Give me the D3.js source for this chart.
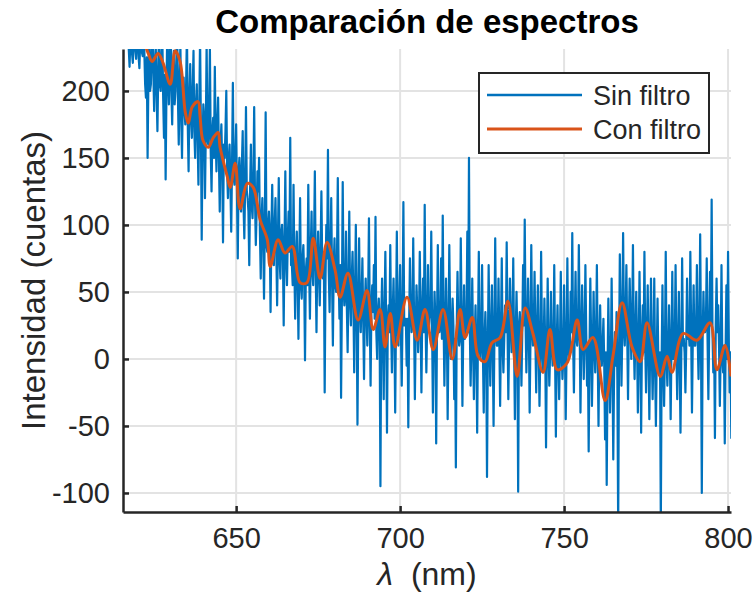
<!DOCTYPE html>
<html>
<head>
<meta charset="utf-8">
<title>Comparación de espectros</title>
<script src="https://cdn.jsdelivr.net/npm/d3@7/dist/d3.min.js"></script>
<style>
  body { margin: 0; background: #fff; }
  text { font-family: "Liberation Sans", Arial, sans-serif; }
</style>
</head>
<body>
<script>
// ticks
var xTicks = [650, 700, 750, 800];
var yTicks = [-100, -50, 0, 50, 100, 150, 200];

// espectro sin filtro: rejilla regular de longitud de onda (nm), 20 puntos por fila = 5 nm
var sinFiltroInicio = 617;
var sinFiltroPaso = 0.25;
var sinFiltro = [
  245, 232, 218, 240, 250, 228, 221, 245, 262, 230, 224, 250, 240, 226, 217, 238, 255, 229, 226, 244,   // 617
  230, 205, 195, 225, 150, 210, 240, 200, 205, 230, 260, 215, 185, 222, 232, 198, 170, 215, 250, 205,   // 622
  200, 225, 240, 195, 165, 212, 134, 200, 245, 210, 190, 225, 260, 200, 175, 215, 230, 190, 200, 220,   // 627
  250, 195, 160, 205, 235, 180, 150, 200, 210, 185, 175, 205, 245, 175, 140, 195, 220, 180, 165, 200,   // 632
  230, 170, 150, 190, 205, 165, 130, 185, 240, 175, 89, 160, 190, 180, 120, 170, 235, 165, 160, 185,    // 637
  232, 155, 125, 170, 180, 150, 218, 165, 140, 175, 195, 150, 110, 160, 175, 145, 87, 160, 150, 170,    // 642
  200, 140, 120, 150, 160, 130, 95, 145, 206, 135, 130, 150, 175, 125, 75, 140, 150, 130, 110, 145,     // 647
  170, 115, 90, 130, 188, 125, 120, 110, 70, 125, 160, 115, 105, 130, 188, 120, 85, 110, 140, 125,      // 652
  150, 95, 60, 105, 120, 90, 45, 100, 184, 85, 80, 100, 110, 90, 35, 95, 130, 85, 70, 100,              // 657
  120, 80, 40, 90, 135, 75, 60, 95, 100, 80, 25, 85, 140, 75, 55, 90, 110, 80, 165, 70,                 // 662
  70, 55, 130, 70, 30, 75, 95, 60, 15, 70, 120, 55, 45, 75, 85, 60, -1, 65, 75, 55,                     // 667
  130, 70, 30, 80, 110, 65, 55, 85, 140, 70, 20, 75, 95, 65, 40, 80, 125, 70, 60, 75,                   // 672
  -25, 60, 100, 75, 156, 65, 35, 80, 120, 60, 10, 70, 90, 55, 50, 75, 135, 65, 30, 70,                  // 677
  -29, 45, 132, 55, 40, 50, 95, 40, 5, 55, 110, 45, 25, 60, 80, 45, -10, 50, 100, 40,                   // 682
  -49, 35, 90, 40, 20, 45, 75, 30, -15, 40, 60, 35, 10, 45, 105, 30, -20, 40, 55, 35,                   // 687
  70, 30, 106, 20, 0, 35, 45, 25, -95, 30, 60, 20, -30, 35, 80, 25, -55, 30, 40, 20,                    // 692
  85, 25, -10, 35, 60, 20, -40, 30, 95, 25, 10, 40, 70, 20, -20, 35, 117, 25, 25, 30,                   // 697
  -5, 30, -51, 25, 75, 35, 20, 25, 90, 30, -30, 20, 55, 35, 5, 25, 80, 30, -25, 35,                     // 702
  60, 20, 115, 30, -10, 25, 70, 20, 30, 35, 95, 25, -40, 20, 50, 30, -63, 25, 85, 20,                   // 707
  20, 25, 75, 15, 107, 30, -20, 20, 60, 25, -45, 15, 85, 30, 0, 20, 45, 25, -30, 15,                    // 712
  -81, 20, 65, 25, 10, 15, 90, 30, -35, 20, 55, 15, 20, 30, 95, 20, 150, 25, -20, 15,                   // 717
  60, 10, -30, 15, 40, 5, -55, 20, 80, 10, 0, 15, 70, 5, -40, 15, 35, 10, -88, 5,                       // 722
  70, 15, -20, 20, 55, 10, -50, 15, 90, 20, 10, 10, 60, 15, -35, 20, 75, 10, -10, 15,                   // 727
  40, 20, 87, 25, -30, 15, 60, 30, 5, 20, 75, 10, -45, 20, 50, 15, -99, 25, 35, 15,                     // 732
  -20, 20, 70, 25, 104, 30, -10, 20, 60, 25, -40, 15, 85, 25, 10, 20, 65, 15, -25, 20,                  // 737
  55, 10, -35, 5, 80, 15, -10, 5, 45, 10, -66, 5, 60, 10, -20, 5, 50, 10, -5, 5,                        // 742
  70, 5, -58, 10, 40, 0, -30, 10, 65, 5, -15, 0, 55, 10, -45, 5, 75, 10, 0, 5,                          // 747
  50, 20, 94, 15, -25, 25, 65, 15, 10, 20, 85, 25, -40, 15, 55, 20, -15, 15, 70, 20,                    // 752
  -20, 10, -69, 5, 60, 15, -35, 5, 50, 10, -10, 15, 70, 5, -50, 10, 40, 5, -5, 10,                      // 757
  30, -5, -60, 5, -94, -10, 45, 0, -40, -5, 60, 0, -75, -10, 20, -5, 35, -15, -125, 0,                  // 762
  78, 30, -20, 20, 94, 25, 10, 30, 70, 20, -30, 25, 60, 30, 0, 20, 85, 15, -15, 20,                     // 767
  50, 15, -40, 5, 65, 10, -55, 15, 40, 5, 80, 10, -25, 15, 55, 5, -45, 10, 60, 5,                       // 772
  -30, 5, 60, -5, -50, 0, 45, -5, -10, 5, -125, 0, 55, -5, -35, 5, 80, 0, -20, 5,                       // 777
  40, 5, -45, 10, 65, 0, 0, 10, 70, 5, -30, 10, 50, 0, -55, 5, 75, 10, 15, 5,                           // 782
  -25, 10, 60, 15, 20, 10, 80, 20, -40, 15, 55, 10, 10, 20, 70, 15, -15, 20, 93, 15,                    // 787
  -100, 15, 50, 20, 20, 25, 75, 15, -30, 20, 65, 25, 119, 20, -10, 15, -59, 25, 60, 20,                 // 792
  40, 10, -35, 5, 70, 0, -10, 10, -63, 5, 55, 0, 80, 10, -25, 5, -59, 10, 30, 5                         // 797
];

// espectro con filtro
var conFiltroNm = [
  620.7, 623.2, 624.4, 626.2, 627.7, 629.9, 631.4, 632.9, 634.5, 635.4,
  636.6, 638.4, 639.0, 639.9, 641.5, 643.0, 644.5, 645.1, 647.3, 648.2,
  649.7, 651.2, 653.4, 655.2, 657.3, 659.5, 660.4, 662.8, 664.9, 667.1,
  669.5, 671.6, 673.5, 675.6, 677.7, 680.2, 681.7, 684.1, 687.2, 689.9,
  691.8, 693.9, 695.4, 697.0, 698.5, 702.1, 705.2, 707.6, 710.1, 713.1,
  715.9, 718.3, 719.8, 722.0, 723.8, 725.9, 728.0, 730.5, 732.9, 735.7,
  738.1, 740.5, 743.6, 745.7, 747.9, 750.9, 754.0, 755.8, 758.8, 762.5,
  764.9, 767.7, 770.7, 773.2, 775.3, 779.3, 781.4, 782.9, 786.3, 790.5,
  794.5, 796.6, 799.1, 800.9
];
var conFiltro = [
  245, 228, 222, 228, 221, 205, 230, 222, 184, 176,
  188, 192, 181, 163, 158, 165, 169, 158, 136, 128,
  146, 112, 131, 128, 104, 89, 69, 89, 79, 84,
  57, 57, 90, 60, 87, 66, 46, 64, 29, 51,
  22, 37, 9, 34, 9, 46, 14, 37, 7, 37,
  0, 37, 16, 31, 2, -2, 12, 16, 43, -13,
  38, 19, -10, 22, -8, -3, 29, 7, 16, -31,
  2, 42, 9, -2, 27, -13, 2, -10, 19, 14,
  27, -8, 10, -13
];

var width = 754;
var height = 599;
var margin = { top: 49, right: 23, bottom: 87, left: 123 };
var ink = "#262626";

var svg = d3.select("body").append("svg")
  .attr("width", width).attr("height", height)
  .style("background", "#fff");

var xScale = d3.scaleLinear().domain([615.5, 800.9]).range([margin.left, width - margin.right]);
var yScale = d3.scaleLinear().domain([-114.2, 231.3]).range([height - margin.bottom, margin.top]);

// rejilla
var grid = svg.append("g");
grid.selectAll(".gx").data(xTicks).enter().append("line")
  .attr("x1", function (d) { return xScale(d); }).attr("x2", function (d) { return xScale(d); })
  .attr("y1", margin.top).attr("y2", height - margin.bottom)
  .attr("stroke", "#e3e3e3").attr("stroke-width", 2);
grid.selectAll(".gy").data(yTicks).enter().append("line")
  .attr("y1", function (d) { return yScale(d); }).attr("y2", function (d) { return yScale(d); })
  .attr("x1", margin.left).attr("x2", width - margin.right)
  .attr("stroke", "#e3e3e3").attr("stroke-width", 2);

svg.append("clipPath").attr("id", "area").append("rect")
  .attr("x", margin.left).attr("y", margin.top)
  .attr("width", width - margin.left - margin.right)
  .attr("height", height - margin.top - margin.bottom);

var plot = svg.append("g").attr("clip-path", "url(#area)");

var lineaSin = d3.line()
  .x(function (d, i) { return xScale(sinFiltroInicio + i * sinFiltroPaso); })
  .y(function (d) { return yScale(d); });
plot.append("path").datum(sinFiltro)
  .attr("d", lineaSin)
  .attr("fill", "none").attr("stroke", "#0072BD").attr("stroke-width", 2.2)
  .attr("stroke-linejoin", "round");

var lineaCon = d3.line()
  .x(function (d, i) { return xScale(conFiltroNm[i]); })
  .y(function (d) { return yScale(d); })
  .curve(d3.curveCatmullRom);
plot.append("path").datum(conFiltro)
  .attr("d", lineaCon)
  .attr("fill", "none").attr("stroke", "#D95319").attr("stroke-width", 3)
  .attr("stroke-linejoin", "round");

// ejes
var axisx = d3.axisBottom(xScale).tickValues(xTicks).tickSizeInner(-6).tickSizeOuter(0)
  .tickPadding(15).tickFormat(function (d) { return String(d); });
var axisy = d3.axisLeft(yScale).tickValues(yTicks).tickSizeInner(-6).tickSizeOuter(0)
  .tickPadding(13).tickFormat(function (d) { return String(d); });

var gx = svg.append("g").attr("transform", "translate(0," + (height - margin.bottom) + ")").call(axisx);
var gy = svg.append("g").attr("transform", "translate(" + margin.left + ",0)").call(axisy);
[gx, gy].forEach(function (g) {
  g.select(".domain").attr("stroke", ink).attr("stroke-width", 2.5);
  g.selectAll(".tick line").attr("stroke", ink).attr("stroke-width", 2.5);
  g.selectAll(".tick text").attr("fill", ink).attr("font-size", "29px")
    .style("font-family", "'Liberation Sans', Arial, sans-serif");
});

// títulos
svg.append("text")
  .attr("x", (margin.left + width - margin.right) / 2).attr("y", 33)
  .attr("text-anchor", "middle").attr("font-size", "33px").attr("font-weight", "bold")
  .attr("fill", "#000")
  .text("Comparación de espectros");

var xl = svg.append("text")
  .attr("x", (margin.left + width - margin.right) / 2).attr("y", 585)
  .attr("text-anchor", "middle").attr("font-size", "32px").attr("fill", ink);
xl.append("tspan").attr("font-style", "italic").text("λ");
xl.append("tspan").text("\u00a0 (nm)");

svg.append("text")
  .attr("transform", "translate(45," + ((margin.top + height - margin.bottom) / 2) + ") rotate(-90)")
  .attr("text-anchor", "middle").attr("font-size", "33px").attr("fill", ink)
  .text("Intensidad (cuentas)");

// leyenda
var series = ["Sin filtro", "Con filtro"];
var colores = ["#0072BD", "#D95319"];
var leg = svg.append("g");
leg.append("rect").attr("x", 479).attr("y", 73).attr("width", 230).attr("height", 80)
  .attr("fill", "#fff").attr("stroke", ink).attr("stroke-width", 2);
series.forEach(function (s, i) {
  var y = 95 + i * 34;
  leg.append("line").attr("x1", 487).attr("x2", 582).attr("y1", y).attr("y2", y)
    .attr("stroke", colores[i]).attr("stroke-width", i === 0 ? 2.5 : 3);
  leg.append("text").attr("x", 593).attr("y", y + 10)
    .attr("font-size", "27px").attr("fill", ink).text(s);
});
</script>
</body>
</html>
